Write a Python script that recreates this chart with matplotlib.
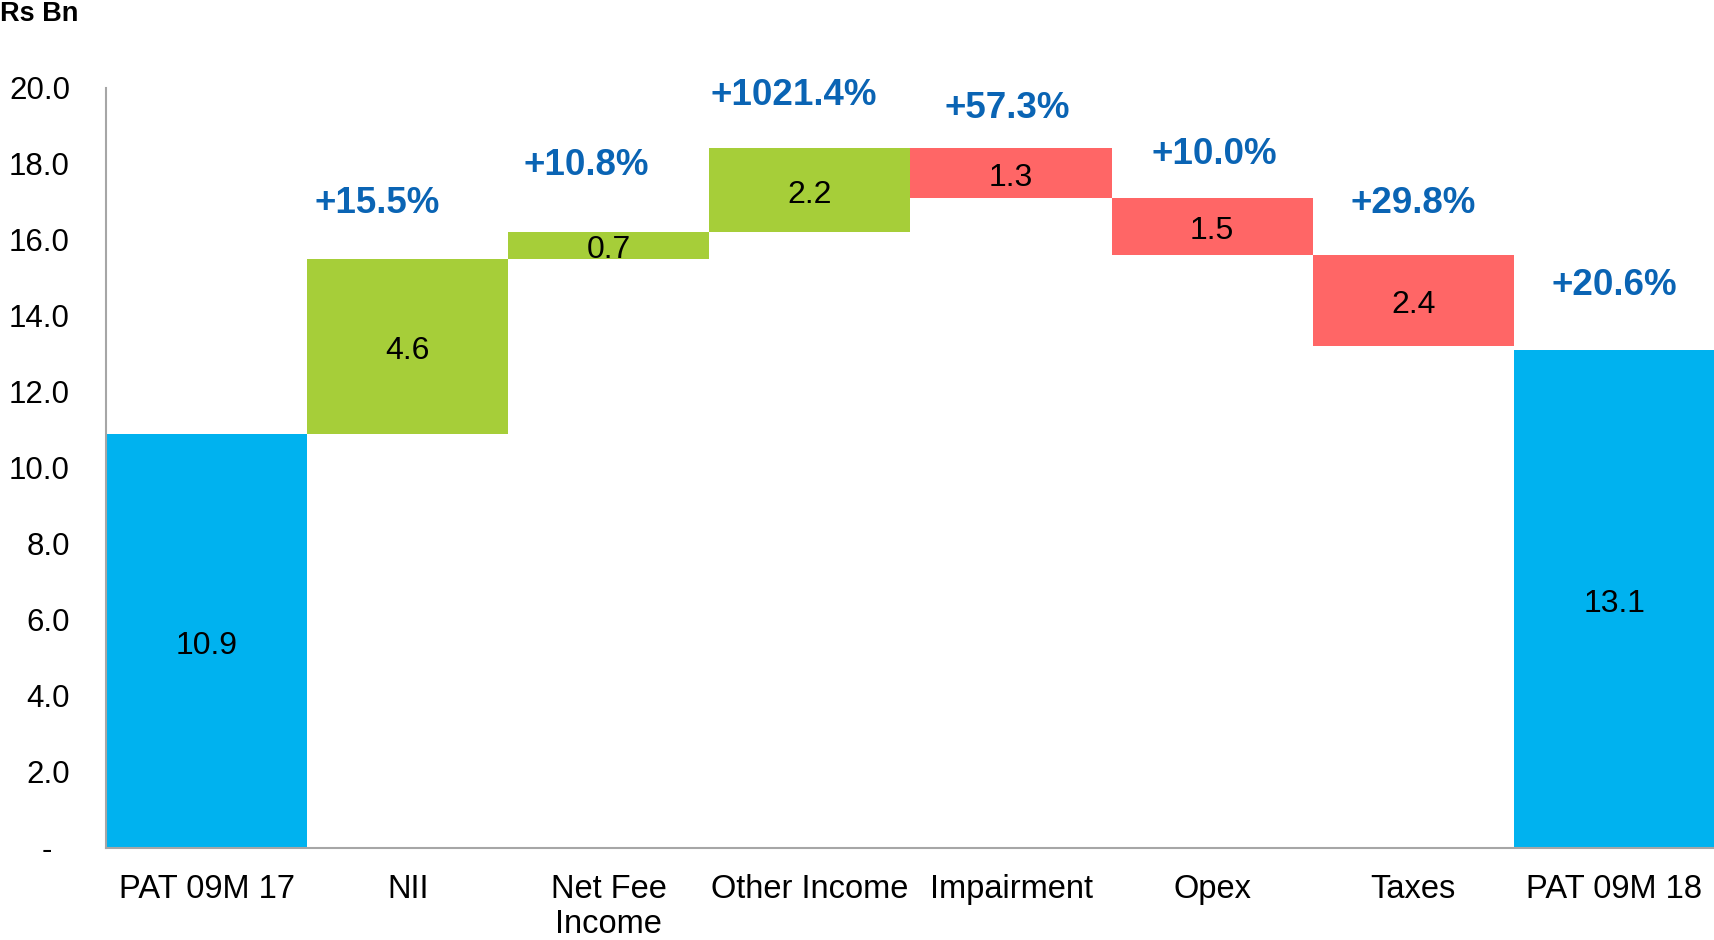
import numpy as np
import matplotlib.pyplot as plt

plt.rcParams['font.family'] = ['Liberation Sans', 'DejaVu Sans']

categories = ['PAT 09M 17', 'NII', 'Net Fee\nIncome', 'Other Income', 'Impairment',
              'Opex', 'Taxes', 'PAT 09M 18']
start = 10.9
deltas = [4.6, 0.7, 2.2, -1.3, -1.5, -2.4]
end = 13.1
pct_labels = ['+15.5%', '+10.8%', '+1021.4%', '+57.3%', '+10.0%', '+29.8%', '+20.6%']
pct_y = [16.95, 17.95, 19.8, 19.45, 18.25, 16.95, 14.8]
pct_dx = [-0.15, -0.11, -0.08, -0.02, 0.01, 0.0, 0.0]
yticks = [0, 2, 4, 6, 8, 10, 12, 14, 16, 18, 20]
ytick_labels = ['-  ', '2.0', '4.0', '6.0', '8.0', '10.0', '12.0', '14.0', '16.0', '18.0', '20.0']

blue = '#00B2EF'
green = '#A6CE39'
red = '#FF6666'
txt_blue = '#0A64B4'

fig = plt.figure(figsize=(17.15, 9.4), dpi=100)
ax = fig.add_axes([0.0618, 0.0979, 0.9382, 0.809])

x = np.arange(len(categories))
bottoms = [0]
heights = [start]
colors = [blue]
level = start
for d in deltas:
    if d >= 0:
        bottoms.append(level)
        colors.append(green)
    else:
        bottoms.append(level + d)
        colors.append(red)
    heights.append(abs(d))
    level += d
bottoms.append(0)
heights.append(end)
colors.append(blue)

ax.bar(x, heights, bottom=bottoms, width=1.0, color=colors, edgecolor='none')

# value labels sit a little below the middle of each bar
vals = [start] + [abs(d) for d in deltas] + [end]
for i in range(len(x)):
    ax.text(x[i], bottoms[i] + heights[i] / 2 - 0.13, '%.1f' % vals[i], ha='center',
            va='center', fontsize=23, color='black')

for i, lab in enumerate(pct_labels):
    ax.text(x[i + 1] + pct_dx[i], pct_y[i], lab, ha='center', va='center', fontsize=26.5,
            fontweight='bold', color=txt_blue)

ax.set_xlim(-0.5, len(categories) - 0.5)
ax.set_ylim(0, 20)
ax.set_xticks(x)
ax.set_xticklabels(categories, fontsize=23.5, linespacing=1.15)
ax.set_yticks(yticks)
ax.set_yticklabels(ytick_labels, fontsize=22.5)
ax.tick_params(axis='both', length=0)
ax.tick_params(axis='y', pad=26)
ax.tick_params(axis='x', pad=19)
for s in ['top', 'right']:
    ax.spines[s].set_visible(False)
for s in ['left', 'bottom']:
    ax.spines[s].set_color('#A6A6A6')
    ax.spines[s].set_linewidth(1.5)

fig.text(0.0, 0.985, 'Rs Bn', ha='left', va='center', fontsize=19.5, fontweight='bold')

plt.savefig('out.png', dpi=100)
